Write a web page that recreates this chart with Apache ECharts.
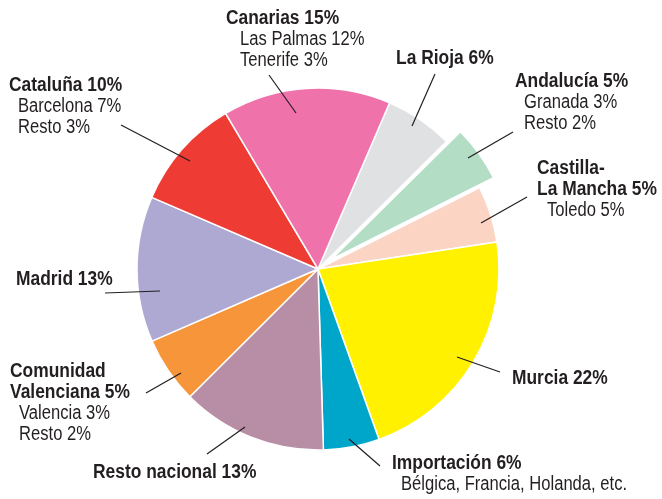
<!DOCTYPE html>
<html>
<head>
<meta charset="utf-8">
<script src="https://cdn.jsdelivr.net/npm/echarts@6/dist/echarts.min.js"></script>
<style>
  html, body { margin: 0; background: #fff; }
  #chart { width: 662px; height: 499px; }
</style>
</head>
<body>
<div id="chart"></div>
<script>
// slices clockwise, starting just right of 12 o'clock
const regions = ['La Rioja', 'Andalucía', 'Castilla-\nLa Mancha', 'Murcia', 'Importación',
  'Resto nacional', 'Comunidad\nValenciana', 'Madrid', 'Cataluña', 'Canarias'];
// percentages printed in the labels
const shares = [6, 5, 5, 22, 6, 13, 5, 13, 10, 15];
// slice sizes as drawn
const sliceValues = [6.1, 5, 5.05, 21.9, 5, 13, 5.95, 13, 10, 15];
const details = [
  [],
  ['Granada 3%', 'Resto 2%'],
  ['Toledo 5%'],
  [],
  ['Bélgica, Francia, Holanda, etc.'],
  [],
  ['Valencia 3%', 'Resto 2%'],
  [],
  ['Barcelona 7%', 'Resto 3%'],
  ['Las Palmas 12%', 'Tenerife 3%']
];

const colors = ['#e0e1e3', '#b3ddc4', '#fcd4c3', '#fff100', '#00a6ca',
  '#b88ea6', '#f6953a', '#aea9d2', '#ee3b33', '#f072ab'];

// label blocks: left edge, first baseline, sub-line indent, leader line (label end -> slice end)
const labelSpots = [
  { x: 396, base: 65, indent: 0, line: [[435, 74], [412, 126]] },
  { x: 515, base: 88, indent: 9, line: [[513, 132], [468, 158]] },
  { x: 537, base: 175, indent: 10, line: [[527, 197], [481, 223]] },
  { x: 512, base: 385, indent: 0, line: [[500, 372], [457, 357]] },
  { x: 392, base: 470, indent: 9, line: [[380, 466], [349, 439]] },
  { x: 93, base: 479, indent: 0, line: [[207, 454], [245, 427]] },
  { x: 10, base: 378, indent: 9, line: [[146, 393], [181, 373]] },
  { x: 16, base: 286, indent: 0, line: [[105, 293], [160, 291]] },
  { x: 9, base: 92, indent: 9, line: [[121, 125], [190, 161]] },
  { x: 226, base: 25, indent: 14, line: [[269, 75], [296, 113]] }
];

const FONT = '"Liberation Sans", Arial, sans-serif';
const INK = '#231f20';
const LINE_GAP = 21;

const chart = echarts.init(document.getElementById('chart'));

// labels are set in a condensed face: squeeze Liberation Sans horizontally
const labelGraphics = [];
regions.forEach(function (name, i) {
  const spot = labelSpots[i];
  const head = name.split('\n');
  head[head.length - 1] += ' ' + shares[i] + '%';
  const lines = head.map(function (t) { return { text: t, bold: true }; })
    .concat(details[i].map(function (t) { return { text: t, bold: false }; }));
  lines.forEach(function (ln, j) {
    labelGraphics.push({
      type: 'text',
      z: 100,
      x: spot.x + (ln.bold ? 0 : spot.indent),
      y: spot.base + j * LINE_GAP - 7,
      scaleX: ln.bold ? 0.87 : 0.83,
      silent: true,
      style: {
        text: ln.text,
        fill: INK,
        font: (ln.bold ? 'bold ' : '') + '20px ' + FONT,
        align: 'left',
        verticalAlign: 'middle'
      }
    });
  });
  // leader line runs from beside the label into the slice
  labelGraphics.push({
    type: 'line',
    z: 100,
    silent: true,
    shape: { x1: spot.line[0][0], y1: spot.line[0][1], x2: spot.line[1][0], y2: spot.line[1][1] },
    style: { stroke: INK, lineWidth: 1.2 }
  });
});

chart.setOption({
  animation: false,
  backgroundColor: '#fff',
  graphic: { elements: labelGraphics },
  series: [{
    type: 'pie',
    center: [318, 269],
    radius: 181,
    startAngle: 66.7,
    clockwise: true,
    selectedMode: 'single',
    selectedOffset: 17,
    itemStyle: { borderColor: '#fff', borderWidth: 1.5 },
    emphasis: { disabled: true },
    select: { itemStyle: { borderColor: '#fff', borderWidth: 1.5 } },
    label: { show: false },
    labelLine: { show: false },
    data: regions.map(function (name, i) {
      return {
        name: name,
        value: sliceValues[i],
        selected: i === 1,
        itemStyle: { color: colors[i] }
      };
    })
  }]
});
</script>
</body>
</html>
